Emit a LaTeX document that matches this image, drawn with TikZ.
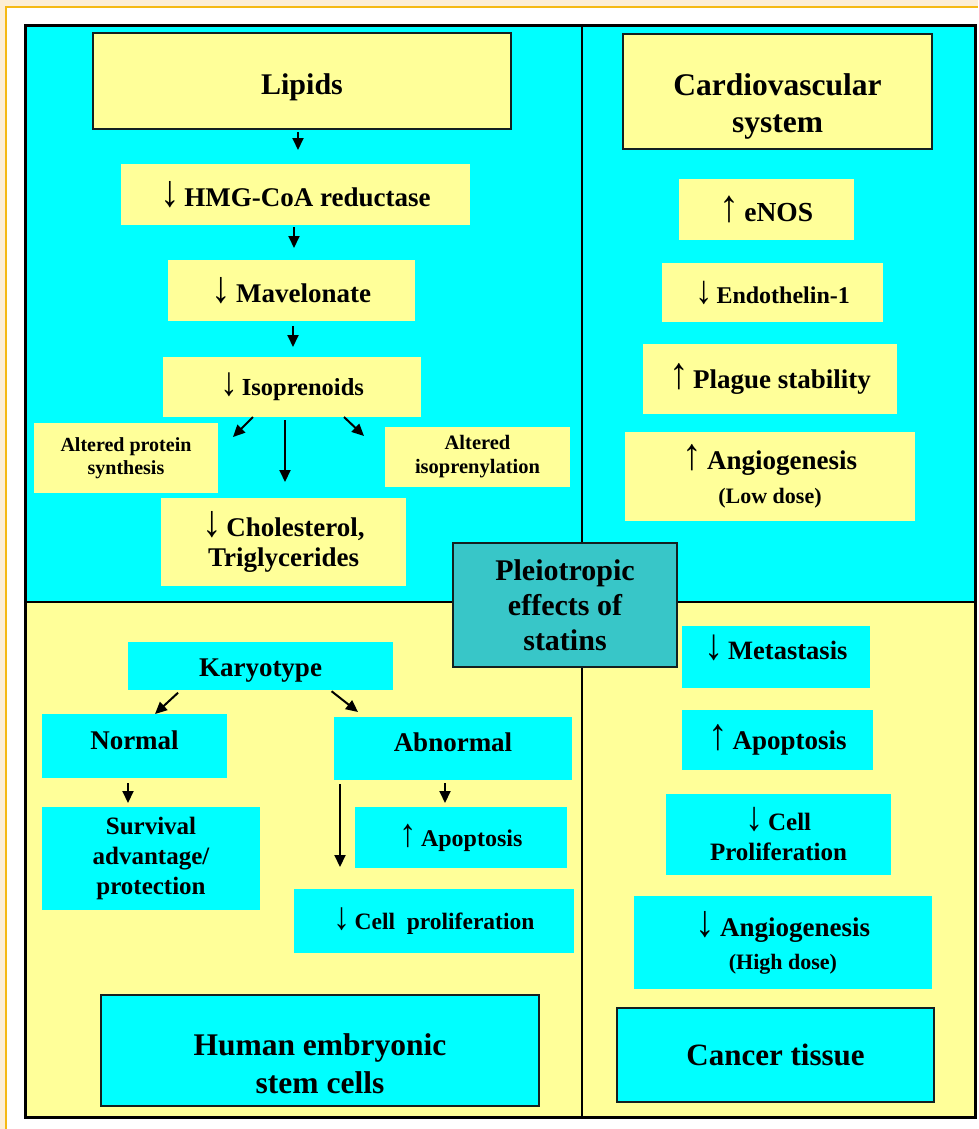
\documentclass[tikz,border=0pt]{standalone}
\usepackage{fontspec}
\setmainfont{Liberation Serif}
\usetikzlibrary{arrows.meta,calc}
\definecolor{beige}{RGB}{252,238,214}
\definecolor{orng}{RGB}{245,185,20}
\definecolor{cyanbg}{RGB}{0,255,255}
\definecolor{ylw}{RGB}{255,255,153}
\definecolor{tealc}{RGB}{56,198,200}
\definecolor{edge}{RGB}{20,32,32}
\newcommand{\fsz}[2]{\fontsize{#1}{#2}\selectfont}
\newcommand{\mydn}{\scalebox{1.45}[1.65]{\textmd{↓}}\,}
\newcommand{\myup}{\scalebox{1.45}[1.65]{\textmd{↑}}\,}
\tikzset{
  bx/.style={inner sep=0pt, outer sep=0pt, align=center},
  yb/.style={bx, fill=ylw},
  cb/.style={bx, fill=cyanbg},
  frm/.style={draw=edge, line width=2pt},
  arr/.style={-{Triangle[length=12pt,width=11pt]}, line width=2pt},
  lbl/.style={inner sep=0pt, outer sep=0pt, align=center}
}
\begin{document}
\begin{tikzpicture}[x=1pt,y=-1pt]
\useasboundingbox (0,0) rectangle (978,1129);
% page background and frame
\fill[beige] (0,0) rectangle (978,1129);
\fill[white] (6,7) rectangle (978,1129);
\draw[orng, line width=2.5pt] (6,1129) -- (6,7) -- (978,7);
% quadrants
\fill[cyanbg] (25,26) rectangle (975,602);
\fill[ylw] (25,602) rectangle (975,1117);
\draw[line width=2.5pt] (582,26) -- (582,1117);
\draw[line width=2.5pt] (25,602) -- (975,602);
\draw[line width=3pt] (25,26) rectangle (975,1117);

% ---- Lipids quadrant
\node[yb,frm,minimum width=418pt,minimum height=96pt,font=\bfseries\fsz{30}{34},text height=34pt,text depth=6pt] (lipids) at (302,81) {Lipids};
\node[yb,minimum width=349pt,minimum height=61pt,font=\bfseries\fsz{27}{30}] (hmg) at (295.5,194.5) {\mydn HMG-CoA reductase};
\node[yb,minimum width=247pt,minimum height=61pt,font=\bfseries\fsz{27}{30}] (mav) at (291.5,290.5) {\mydn Mavelonate};
\node[yb,minimum width=258pt,minimum height=60pt,font=\bfseries\fsz{24.5}{28}] (iso) at (292,387) {\mydn Isoprenoids};
\node[yb,minimum width=184pt,minimum height=70pt,font=\bfseries\fsz{20}{23}] (aps) at (126,458) {Altered protein\\synthesis};
\node[yb,minimum width=185pt,minimum height=60pt,font=\bfseries\fsz{20.5}{24}] (ais) at (477.5,457) {Altered\\isoprenylation};
\node[yb,minimum width=245pt,minimum height=88pt,font=\bfseries\fsz{27}{30}] (chol) at (283.5,542) {\mydn Cholesterol,\\Triglycerides};

\draw[arr,shorten <=3pt,shorten >=14pt] ([xshift=-4pt]lipids.south) -- ([xshift=2.5pt]hmg.north);
\draw[arr,shorten <=2pt,shorten >=12pt] ([xshift=-1.5pt]hmg.south) -- ([xshift=2.5pt]mav.north);
\draw[arr,shorten <=5pt,shorten >=10pt] ([xshift=1.5pt]mav.south) -- ([xshift=1pt]iso.north);
\draw[arr,shorten <=3pt,shorten >=16pt] ([xshift=-7pt]iso.south) -- ([xshift=1.5pt]chol.north);
\draw[arr] ([xshift=90pt]iso.south west) -- ([xshift=15pt,yshift=-14pt]aps.north east);
\draw[arr] ([xshift=-77pt]iso.south east) -- ([xshift=-21pt,yshift=-9pt]ais.north west);

% ---- Cardiovascular quadrant
\node[yb,frm,minimum width=309pt,minimum height=115pt] (cardio) at (777.5,91.5) {};
\node[lbl,font=\bfseries\fsz{31.5}{37}] (cardiot) at (777.5,106) {Cardiovascular\\system};
\node[yb,minimum width=175pt,minimum height=61pt,font=\bfseries\fsz{27.5}{30}] (enos) at (766.5,209.5) {\myup eNOS};
\node[yb,minimum width=221pt,minimum height=59pt,font=\bfseries\fsz{24}{28}] (endo) at (772.5,292.5) {\mydn Endothelin-1};
\node[yb,minimum width=254pt,minimum height=70pt,font=\bfseries\fsz{27}{30}] (plag) at (770,379) {\myup Plague stability};
\node[yb,minimum width=290pt,minimum height=89pt,font=\bfseries\fsz{27}{34}] (angl) at (770,476.5) {\myup Angiogenesis\\{\fsz{22}{26}(Low dose)}};

% ---- Human embryonic stem cells quadrant
\node[cb,minimum width=265pt,minimum height=48pt,font=\bfseries\fsz{27}{30},text height=22pt,text depth=2pt] (kary) at (260.5,666) {Karyotype};
\node[cb,minimum width=185pt,minimum height=64pt,font=\bfseries\fsz{27}{30},text height=18pt,text depth=12pt] (normal) at (134.5,746) {Normal};
\node[cb,minimum width=238pt,minimum height=63pt,font=\bfseries\fsz{27}{30},text height=18pt,text depth=13pt] (abn) at (453,748.5) {Abnormal};
\node[cb,minimum width=218pt,minimum height=103pt,font=\bfseries\fsz{25}{30}] (surv) at (151,858.5) {Survival\\advantage/\\protection};
\node[cb,minimum width=212pt,minimum height=61pt,font=\bfseries\fsz{24}{28}] (apo1) at (461,837.5) {\myup Apoptosis};
\node[cb,minimum width=280pt,minimum height=64pt,font=\bfseries\fsz{23.5}{27}] (cellp) at (434,921) {\mydn Cell~~proliferation};
\node[cb,frm,minimum width=438pt,minimum height=111pt] (human) at (320,1050.5) {};
\node[lbl,font=\bfseries\fsz{31.5}{38}] (humant) at (320,1064) {Human embryonic\\stem cells};

\draw[arr,shorten <=4pt] ([xshift=53pt]kary.south west) -- ([xshift=20.5pt]normal.north);
\draw[arr,shorten <=2pt] ([xshift=-63pt]kary.south east) -- ([xshift=24pt,yshift=5pt]abn.north west);
\draw[arr,shorten <=5pt,shorten >=4pt] ([xshift=-6.5pt]normal.south) -- ([xshift=-23pt]surv.north);
\draw[arr,shorten <=3pt,shorten >=4pt] ([xshift=-8pt]abn.south) -- ([xshift=-16pt]apo1.north);
\draw[arr,shorten <=4pt,shorten >=22pt] ([xshift=6pt]abn.south west) -- ([xshift=46pt]cellp.north west);

% ---- Cancer tissue quadrant
\node[cb,minimum width=188pt,minimum height=62pt,font=\bfseries\fsz{26.5}{30},text height=18pt,text depth=14pt] (meta) at (776,657) {\mydn Metastasis};
\node[cb,minimum width=191pt,minimum height=60pt,font=\bfseries\fsz{27}{30}] (apo2) at (777.5,740) {\myup Apoptosis};
\node[cb,minimum width=225pt,minimum height=81pt,font=\bfseries\fsz{25}{30}] (cellp2) at (778.5,834.5) {\mydn Cell\\Proliferation};
\node[cb,minimum width=298pt,minimum height=93pt,font=\bfseries\fsz{27}{33}] (angh) at (783,942.5) {\mydn Angiogenesis\\{\fsz{22}{26}(High dose)}};
\node[cb,frm,minimum width=317pt,minimum height=94pt,font=\bfseries\fsz{31}{36}] (cancer) at (775.5,1055) {Cancer tissue};

% ---- centre
\node[bx,frm,fill=tealc,minimum width=224pt,minimum height=124pt,font=\bfseries\fsz{30}{35}] (center) at (565,605) {Pleiotropic\\effects of\\statins};
\end{tikzpicture}
\end{document}
